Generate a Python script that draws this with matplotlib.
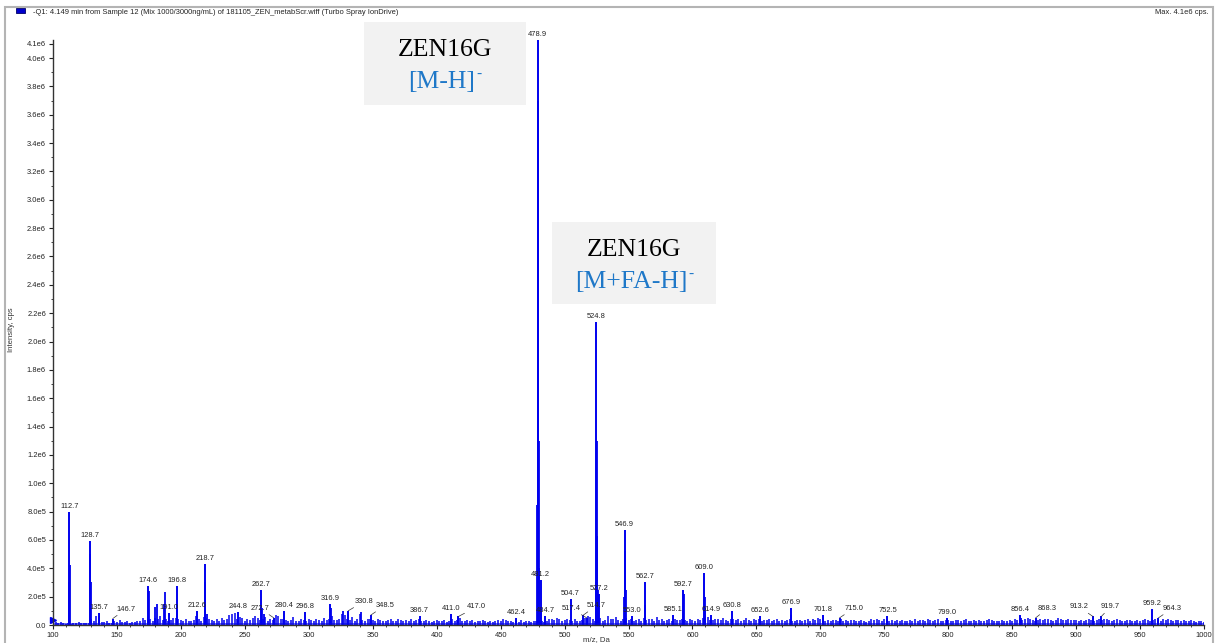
import numpy as np
import matplotlib
matplotlib.use("Agg")
import matplotlib.pyplot as plt
from matplotlib.patches import Rectangle

# ---- spectrum data (m/z in Da, intensity in cps) ----
label_mz = [112.7, 128.7, 135.7, 146.7, 174.6, 191.0, 196.8, 212.6, 218.7, 244.8,
            262.7, 272.7, 280.4, 296.8, 316.9, 330.8, 348.5, 386.7, 411.0, 417.0,
            462.4, 478.9, 481.2, 484.7, 504.7, 514.7, 517.4, 524.8, 527.2, 546.9,
            553.0, 562.7, 585.1, 592.7, 609.0, 614.9, 630.8, 652.6, 676.9, 701.8,
            715.0, 752.5, 799.0, 856.4, 868.3, 913.2, 919.7, 959.2, 964.3]
label_int = [0.80e6, 0.59e6, 0.085e6, 0.045e6, 0.275e6, 0.085e6, 0.275e6, 0.10e6, 0.43e6, 0.09e6,
             0.25e6, 0.05e6, 0.10e6, 0.09e6, 0.15e6, 0.10e6, 0.07e6, 0.06e6, 0.08e6, 0.06e6,
             0.05e6, 4.13e6, 0.32e6, 0.06e6, 0.18e6, 0.07e6, 0.05e6, 2.14e6, 0.22e6, 0.67e6,
             0.06e6, 0.30e6, 0.07e6, 0.25e6, 0.37e6, 0.07e6, 0.10e6, 0.06e6, 0.12e6, 0.07e6,
             0.05e6, 0.06e6, 0.05e6, 0.07e6, 0.05e6, 0.06e6, 0.06e6, 0.11e6, 0.05e6]

# unlabelled shoulders and side peaks
side_mz = [112.4, 113.1, 129.2, 129.7, 136.3, 175.2, 179.6, 181.0, 186.9, 187.6,
           197.3, 219.2, 220.6, 263.3, 264.6, 317.5, 326.5, 340.8, 478.5, 479.3,
           479.7, 480.3, 481.7, 524.4, 525.2, 525.6, 526.0, 546.4, 547.4, 547.9,
           563.2, 593.2, 609.5, 610.0, 677.4, 857.0]
side_int = [0.30e6, 0.42e6, 0.50e6, 0.30e6, 0.06e6, 0.24e6, 0.13e6, 0.15e6, 0.15e6, 0.23e6,
            0.15e6, 0.30e6, 0.08e6, 0.12e6, 0.08e6, 0.12e6, 0.10e6, 0.09e6, 0.85e6, 3.70e6,
            1.30e6, 0.40e6, 0.12e6, 0.30e6, 1.30e6, 0.63e6, 0.25e6, 0.20e6, 0.52e6, 0.25e6,
            0.14e6, 0.22e6, 0.20e6, 0.10e6, 0.07e6, 0.05e6]

# baseline noise, one reading every 2 Da from 100 to 1000 (kcps)
noise_k = [
    30, 18, 12, 22, 15, 10, 14, 9, 16, 12, 20, 11, 14, 17, 13, 45, 28, 60, 40, 22, 18, 25, 16, 14, 30,
    20, 35, 22, 18, 28, 16, 24, 20, 30, 26, 48, 35, 55, 40, 28, 50, 45, 62, 35, 44, 30, 38, 52, 48, 40,
    35, 28, 42, 30, 25, 38, 60, 45, 30, 55, 48, 40, 35, 28, 42, 30, 50, 38, 45, 70, 80, 85, 40, 55, 48,
    30, 45, 38, 52, 60, 48, 35, 40, 55, 30, 42, 38, 70, 60, 45, 40, 35, 30, 38, 55, 30, 25, 42, 35, 28,
    40, 32, 28, 45, 38, 30, 50, 35, 42, 60, 38, 32, 45, 80, 70, 40, 35, 55, 30, 42, 75, 38, 30, 45, 40,
    32, 28, 40, 35, 30, 25, 38, 42, 30, 28, 45, 32, 26, 35, 30, 40, 28, 32, 45, 30, 25, 38, 28, 22, 30,
    35, 28, 25, 32, 22, 30, 40, 28, 35, 50, 30, 25, 38, 28, 32, 22, 30, 26, 35, 28, 24, 30, 20, 26, 35,
    28, 40, 35, 25, 30, 22, 28, 24, 32, 20, 26, 30, 22, 28, 25, 35, 30, 22, 28, 40, 45, 35, 50, 40, 30,
    35, 42, 38, 28, 45, 30, 25, 38, 50, 60, 55, 40, 30, 35, 48, 28, 32, 60, 40, 45, 55, 35, 30, 42, 50,
    38, 45, 30, 35, 42, 28, 50, 35, 40, 45, 30, 55, 38, 42, 30, 35, 40, 28, 45, 38, 32, 40, 35, 30, 45,
    38, 30, 42, 35, 48, 40, 55, 38, 32, 45, 40, 35, 50, 38, 30, 42, 45, 35, 40, 30, 38, 50, 35, 28, 40,
    35, 42, 30, 38, 32, 45, 28, 35, 40, 30, 38, 28, 35, 42, 30, 25, 38, 32, 28, 35, 40, 30, 45, 38, 50,
    42, 35, 30, 38, 28, 35, 32, 25, 40, 30, 35, 28, 32, 38, 30, 25, 35, 28, 22, 30, 45, 38, 42, 35, 30,
    40, 45, 30, 35, 28, 32, 25, 38, 30, 28, 35, 30, 42, 28, 35, 38, 30, 40, 35, 28, 32, 45, 30, 25, 38,
    35, 30, 28, 38, 32, 25, 35, 40, 28, 30, 35, 25, 38, 30, 28, 32, 40, 35, 25, 30, 28, 35, 30, 25, 38,
    30, 40, 35, 42, 38, 45, 50, 40, 35, 30, 38, 42, 35, 40, 45, 38, 30, 35, 50, 42, 38, 35, 40, 32, 38,
    35, 30, 38, 28, 32, 40, 35, 30, 38, 42, 35, 40, 45, 38, 30, 35, 42, 38, 30, 28, 35, 32, 30, 25, 35,
    30, 38, 42, 35, 28, 32, 40, 35, 30, 45, 38, 42, 35, 30, 38, 32, 28, 35, 30, 25, 32, 28, 22, 30, 25,
    20]
noise_mz = np.arange(100, 1001, 2)
baseline_cps = 16e3

# labels drawn beside their peak with a short leader (offset in pixels)
leader_offsets = {146.7: 13, 272.7: -14, 330.8: 16, 348.5: 14, 417.0: 18,
                  514.7: 13, 517.4: -16, 715.0: 14, 868.3: 12, 913.2: -14,
                  919.7: 9, 964.3: 14}

yticks = [0, 0.2e6, 0.4e6, 0.6e6, 0.8e6, 1.0e6, 1.2e6, 1.4e6, 1.6e6, 1.8e6, 2.0e6,
          2.2e6, 2.4e6, 2.6e6, 2.8e6, 3.0e6, 3.2e6, 3.4e6, 3.6e6, 3.8e6, 4.0e6, 4.1e6]
ytick_labels = ["0.0", "2.0e5", "4.0e5", "6.0e5", "8.0e5", "1.0e6", "1.2e6", "1.4e6",
                "1.6e6", "1.8e6", "2.0e6", "2.2e6", "2.4e6", "2.6e6", "2.8e6", "3.0e6",
                "3.2e6", "3.4e6", "3.6e6", "3.8e6", "4.0e6", "4.1e6"]
xticks = [100, 150, 200, 250, 300, 350, 400, 450, 500, 550, 600, 650, 700, 750,
          800, 850, 900, 950, 1000]

title = ("-Q1: 4.149 min from Sample 12 (Mix 1000/3000ng/mL) of "
         "181105_ZEN_metabScr.wiff (Turbo Spray IonDrive)")
max_text = "Max. 4.1e6 cps."

W, H = 1215, 643
SANS = "Liberation Sans"
SERIF = ["Liberation Serif", "DejaVu Serif"]
BLUE = "#0000ee"
ION_BLUE = "#1f78c8"

fig = plt.figure(figsize=(W / 100, H / 100), dpi=100)
fig.patch.set_facecolor("white")

ax_left, ax_right, ax_bottom, ax_top = 53, 1204, 625, 39.6
ax = fig.add_axes([ax_left / W, 1 - ax_bottom / H,
                   (ax_right - ax_left) / W, (ax_bottom - ax_top) / H])

# spectrum
ax.fill_between([100, 1000], 0, baseline_cps, color=BLUE, lw=0, alpha=0.6)
ax.vlines(noise_mz, 0, np.array(noise_k) * 1e3, color=BLUE, lw=1.1)
ax.vlines(side_mz, 0, side_int, color=BLUE, lw=1.3)
ax.vlines(label_mz, 0, label_int, color=BLUE, lw=1.4)
ax.plot([100], [0.035e6], marker=">", color=BLUE, ms=5, clip_on=False)

# peak labels
for mz, h in zip(label_mz, label_int):
    txt = f"{mz:.1f}"
    if mz in leader_offsets:
        dx = leader_offsets[mz]
        ax.annotate(txt, xy=(mz, h), xytext=(dx, 6), textcoords="offset pixels",
                    ha="center", va="bottom", fontsize=5.4, family=SANS,
                    color="#222222", annotation_clip=False,
                    arrowprops=dict(arrowstyle="-", color="#333333", lw=0.5,
                                    shrinkA=0, shrinkB=0))
    else:
        ax.annotate(txt, xy=(mz, h), xytext=(0, 2), textcoords="offset pixels",
                    ha="center", va="bottom", fontsize=5.4, family=SANS,
                    color="#222222", annotation_clip=False)

ax.set_xlim(100, 1000)
ax.set_ylim(0, 4.13e6)
ax.set_xticks(xticks)
ax.set_xticklabels([str(t) for t in xticks], fontsize=5.4, family=SANS)
ax.set_xticks(np.arange(100, 1001, 10), minor=True)
ax.set_yticks(yticks)
ax.set_yticklabels(ytick_labels, fontsize=5.4, family=SANS)
ax.set_yticks(np.arange(0.1e6, 4.1e6, 0.2e6), minor=True)
ax.tick_params(axis="both", which="major", length=3, width=0.8, pad=2, colors="#222222")
ax.tick_params(axis="both", which="minor", length=1.5, width=0.6, colors="#222222")
for s in ("top", "right"):
    ax.spines[s].set_visible(False)
for s in ("left", "bottom"):
    ax.spines[s].set_color("#333333")
    ax.spines[s].set_linewidth(1.0)

fig.text(12 / W, 1 - 330 / H, "Intensity, cps", rotation=90, ha="center", va="center",
         fontsize=5.6, family=SANS, color="#333333")
fig.text(596 / W, 1 - 636 / H, "m/z, Da", ha="center", va="top",
         fontsize=5.6, family=SANS, color="#333333")

# header line
fig.patches.append(Rectangle((16 / W, 1 - 13 / H), 9 / W, 5 / H, transform=fig.transFigure,
                             facecolor="#0000cc", edgecolor="#000066", lw=0.6))
fig.text(33 / W, 1 - 12 / H, title, ha="left", va="center", fontsize=5.4, family=SANS,
         color="#222222")
fig.text(1209 / W, 1 - 12 / H, max_text, ha="right", va="center", fontsize=5.4,
         family=SANS, color="#222222")

# outer frame
fig.patches.append(Rectangle((5 / W, -0.02), (1213 - 5) / W, 1.02 - 7 / H,
                             transform=fig.transFigure, fill=False,
                             edgecolor="#b4b4b4", lw=1.5))

# ion annotations
renderer = fig.canvas.get_renderer()


def ion_box(x0, y0, x1, y1, ion):
    fig.patches.append(Rectangle((x0 / W, 1 - y1 / H), (x1 - x0) / W, (y1 - y0) / H,
                                 transform=fig.transFigure, facecolor="#f2f2f2",
                                 edgecolor="none", zorder=3))
    cx = (x0 + x1) / 2
    fig.text(cx / W, 1 - (y0 + 28) / H, "ZEN16G", ha="center", va="center",
             fontsize=18.5, family=SERIF, color="black", zorder=4)
    t = fig.text((cx - 3) / W, 1 - (y0 + 60) / H, ion, ha="center", va="center",
                 fontsize=18.5, family=SERIF, color=ION_BLUE, zorder=4)
    bb = t.get_window_extent(renderer)
    # charge sign as a small raised minus
    fig.text((bb.x1 + 1) / W, (bb.y1 + 3) / H, "-", ha="left", va="top",
             fontsize=11, family=SERIF, color=ION_BLUE, zorder=4)


ion_box(364, 22, 526, 105, "[M-H]")
ion_box(552, 222, 716, 304, "[M+FA-H]")

fig.savefig("out.png", dpi=100, facecolor="white")
